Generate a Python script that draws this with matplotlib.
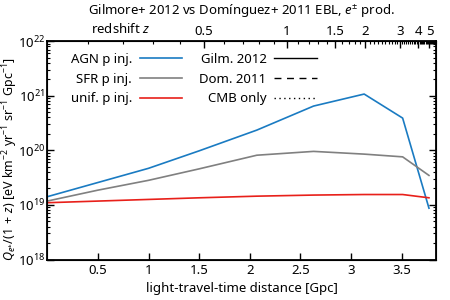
import numpy as np
import matplotlib
matplotlib.use("Agg")
import matplotlib.pyplot as plt
from matplotlib.lines import Line2D

plt.rcParams["font.family"] = ["Noto Sans", "DejaVu Sans"]
plt.rcParams["mathtext.fontset"] = "custom"
plt.rcParams["mathtext.rm"] = "Noto Sans"
plt.rcParams["mathtext.it"] = "Noto Sans:italic"
plt.rcParams["font.size"] = 9.5

# light-travel-time distance [Gpc] of the sampled points
dist = [0.0, 0.5, 1.0, 1.5, 2.07, 2.63, 3.13, 3.51, 3.77]
# log10 of Q/(1+z) for each injection model (Gilmore 2012 EBL)
agn_log = [19.15, 19.41, 19.67, 19.99, 20.37, 20.81, 21.03, 20.59, 18.94]
sfr_log = [19.07, 19.27, 19.45, 19.66, 19.91, 19.98, 19.93, 19.88, 19.54]
unif_log = [19.04, 19.07, 19.10, 19.13, 19.16, 19.18, 19.19, 19.19, 19.13]

z_major = [0.5, 1, 1.5, 2, 3, 4, 5]
z_major_labels = ["0.5", "1", "1.5", "2", "3", "4", "5"]


# light-travel distance for flat LCDM (H0=70, Om=0.3), in Gpc
def ltt_distance(z, h0=70.0, om=0.3):
    zz = np.linspace(0, z, 2000)
    ez = np.sqrt(om * (1 + zz) ** 3 + (1 - om))
    integrand = 1.0 / ((1 + zz) * ez)
    return 299792.458 / h0 * np.trapezoid(integrand, zz) / 1000.0


fig = plt.figure(figsize=(4.5, 3), dpi=100)
ax = fig.add_axes([0.105, 0.135, 0.864, 0.728])

ax.plot(dist, 10 ** np.array(agn_log), color="#1a7bc2", lw=1.2)
ax.plot(dist, 10 ** np.array(sfr_log), color="#808080", lw=1.2)
ax.plot(dist, 10 ** np.array(unif_log), color="#e8201a", lw=1.2)

ax.set_yscale("log")
ax.set_ylim(1e18, 1e22)
ax.set_xlim(0, 3.84)
ax.set_xticks([0.5, 1, 1.5, 2, 2.5, 3, 3.5])
ax.set_xticklabels(["0.5", "1", "1.5", "2", "2.5", "3", "3.5"])
ax.tick_params(which="both", direction="in", right=True, top=False)
ax.tick_params(which="major", length=5, width=1)
ax.tick_params(which="minor", length=2.5, width=0.8)
ax.tick_params(axis="x", which="minor", bottom=False)
ax.tick_params(axis="y", pad=1.5)
for s in ax.spines.values():
    s.set_linewidth(1.3)

ax.set_xlabel("light-travel-time distance [Gpc]", labelpad=3)
ax.set_ylabel(r"$Q_{e^{\pm}}/(1\,+\,z)$ [eV km$^{-2}$ yr$^{-1}$ sr$^{-1}$ Gpc$^{-1}$]",
              fontsize=9)
ax.yaxis.set_label_coords(-0.07, 0.46)

# redshift axis on top
top = ax.twiny()
top.set_xlim(ax.get_xlim())
top.set_xticks([ltt_distance(z) for z in z_major])
top.set_xticklabels(z_major_labels)
z_minor = [round(0.1 * i, 1) for i in range(1, 60) if round(0.1 * i, 1) not in z_major]
top.set_xticks([ltt_distance(z) for z in z_minor if ltt_distance(z) < 3.84], minor=True)
top.tick_params(which="both", direction="in", pad=2)
top.tick_params(which="major", length=5, width=1)
top.tick_params(which="minor", length=2.5, width=0.8)
top.text(0.19, 1.025, "redshift $z$", transform=ax.transAxes, ha="center", va="bottom")
top.set_title(r"Gilmore+ 2012 vs Domínguez+ 2011 EBL, $e^{\pm}$ prod.",
              fontsize=9.5, pad=19)

handles = [
    Line2D([], [], color="#1a7bc2", lw=1.2),
    Line2D([], [], color="#808080", lw=1.2),
    Line2D([], [], color="#e8201a", lw=1.2),
    Line2D([], [], color="black", lw=1.0, ls="-"),
    Line2D([], [], color="black", lw=1.0, ls=(0, (5, 4))),
    Line2D([], [], color="black", lw=1.0, ls=(0, (1, 2.5))),
]
labels = ["AGN p inj.", "SFR p inj.", "unif. p inj.", "Gilm. 2012", "Dom. 2011", "CMB only"]
ax.legend(handles, labels, ncol=2, markerfirst=False, frameon=False, loc="upper left",
          bbox_to_anchor=(0.03, 1.0), handlelength=3.2, labelspacing=0.5,
          columnspacing=1.3, handletextpad=0.6)

fig.savefig("out.png", dpi=100)
